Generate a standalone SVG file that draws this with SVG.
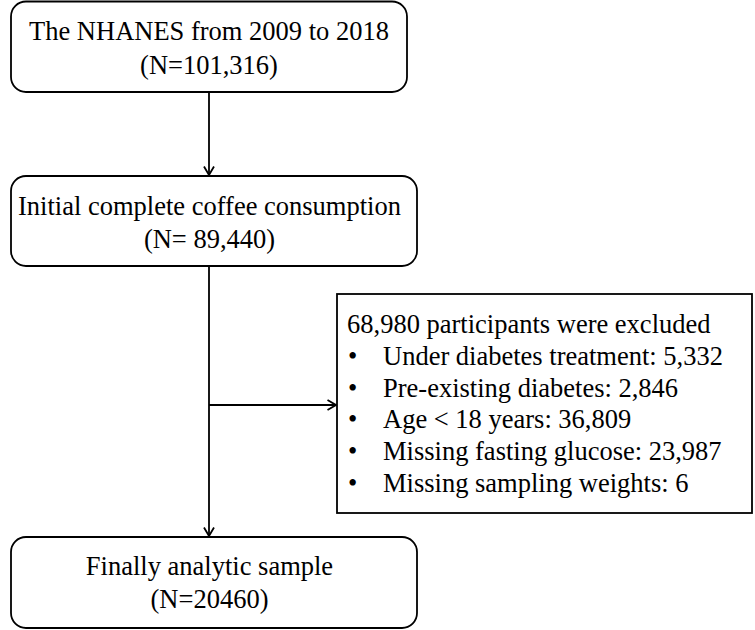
<svg xmlns="http://www.w3.org/2000/svg" width="755" height="630" viewBox="0 0 755 630">
<defs>
<style>
.box{fill:#fff;stroke:#000;stroke-width:1.8}
.t{font-family:"Liberation Serif","Times New Roman",serif;font-size:26.5px;fill:#000}
.c{text-anchor:middle}
.ln{fill:none;stroke:#000;stroke-width:1.8}
</style>
<marker id="ah" viewBox="0 0 10 12" refX="9.5" refY="6" markerWidth="10" markerHeight="12" markerUnits="userSpaceOnUse" orient="auto">
<path d="M1,1 L9.5,6 L1,11" fill="none" stroke="#000" stroke-width="1.8"/>
</marker>
</defs>
<rect width="755" height="630" fill="#fff"/>
<g id="connectors">
<line class="ln" x1="209" y1="92" x2="209" y2="175" marker-end="url(#ah)"/>
<line class="ln" x1="209" y1="266" x2="209" y2="536" marker-end="url(#ah)"/>
<line class="ln" x1="209" y1="405" x2="336" y2="405" marker-end="url(#ah)"/>
</g>
<g id="n1">
<rect class="box" x="11" y="1.5" width="396" height="90.5" rx="15"/>
<text class="t c" x="209" y="40">The NHANES from 2009 to 2018</text>
<text class="t c" x="209" y="74">(N=101,316)</text>
</g>
<g id="n2">
<rect class="box" x="11" y="176" width="406" height="90" rx="15"/>
<text class="t c" x="209.5" y="215">Initial complete coffee consumption</text>
<text class="t c" x="209.5" y="248">(N= 89,440)</text>
</g>
<g id="n3">
<rect class="box" x="337" y="294" width="415" height="219"/>
<text class="t" x="347" y="333">68,980 participants were excluded</text>
<text class="t" x="348" y="365">•</text><text class="t" x="383" y="365">Under diabetes treatment: 5,332</text>
<text class="t" x="348" y="397">•</text><text class="t" x="383" y="397">Pre-existing diabetes: 2,846</text>
<text class="t" x="348" y="428">•</text><text class="t" x="383" y="428">Age &lt; 18 years: 36,809</text>
<text class="t" x="348" y="460">•</text><text class="t" x="383" y="460">Missing fasting glucose: 23,987</text>
<text class="t" x="348" y="492">•</text><text class="t" x="383" y="492">Missing sampling weights: 6</text>
</g>
<g id="n4">
<rect class="box" x="11" y="537" width="406" height="91" rx="15"/>
<text class="t c" x="209.5" y="575">Finally analytic sample</text>
<text class="t c" x="209.5" y="608">(N=20460)</text>
</g>
</svg>
